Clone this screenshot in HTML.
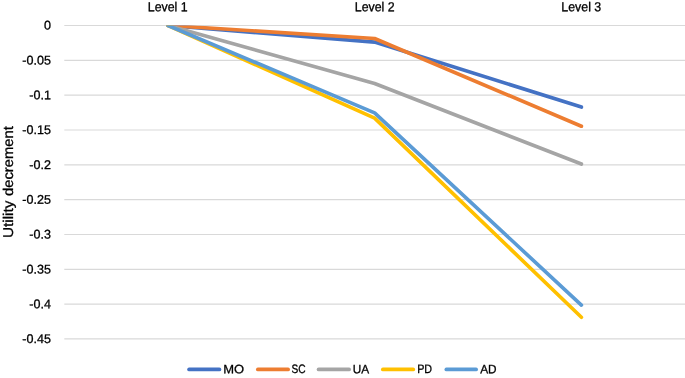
<!DOCTYPE html>
<html><head><meta charset="utf-8"><title>Utility decrement</title>
<style>
html,body{margin:0;padding:0;background:#fff;}
svg{display:block;}
text{font-family:"Liberation Sans",sans-serif;fill:#000;text-rendering:geometricPrecision;stroke:#000;stroke-width:0.3px;}
</style></head><body>
<svg width="685" height="378" viewBox="0 0 685 378">
<rect width="685" height="378" fill="#fff"/>
<defs><clipPath id="plot"><rect x="64" y="25.40" width="621" height="330"/></clipPath></defs>

<g stroke="#D9D9D9" stroke-width="1.2">
<line x1="64.3" y1="25.50" x2="685" y2="25.50"/>
<line x1="64.3" y1="60.33" x2="685" y2="60.33"/>
<line x1="64.3" y1="95.16" x2="685" y2="95.16"/>
<line x1="64.3" y1="129.99" x2="685" y2="129.99"/>
<line x1="64.3" y1="164.82" x2="685" y2="164.82"/>
<line x1="64.3" y1="199.65" x2="685" y2="199.65"/>
<line x1="64.3" y1="234.48" x2="685" y2="234.48"/>
<line x1="64.3" y1="269.31" x2="685" y2="269.31"/>
<line x1="64.3" y1="304.14" x2="685" y2="304.14"/>
<line x1="64.3" y1="338.97" x2="685" y2="338.97"/>
</g>
<g font-size="12.55" text-anchor="end">
<text x="50.9" y="29.60" transform="rotate(0.03 50.9 29.60)">0</text>
<text x="50.9" y="64.43" transform="rotate(0.03 50.9 64.43)">-0.05</text>
<text x="50.9" y="99.26" transform="rotate(0.03 50.9 99.26)">-0.1</text>
<text x="50.9" y="134.09" transform="rotate(0.03 50.9 134.09)">-0.15</text>
<text x="50.9" y="168.92" transform="rotate(0.03 50.9 168.92)">-0.2</text>
<text x="50.9" y="203.75" transform="rotate(0.03 50.9 203.75)">-0.25</text>
<text x="50.9" y="238.58" transform="rotate(0.03 50.9 238.58)">-0.3</text>
<text x="50.9" y="273.41" transform="rotate(0.03 50.9 273.41)">-0.35</text>
<text x="50.9" y="308.24" transform="rotate(0.03 50.9 308.24)">-0.4</text>
<text x="50.9" y="343.07" transform="rotate(0.03 50.9 343.07)">-0.45</text>
</g>
<g font-size="13.05" text-anchor="middle">
<text x="167.7" y="11.35" transform="rotate(0.03 167.7 11.35)" textLength="39.9" lengthAdjust="spacingAndGlyphs">Level 1</text>
<text x="374.7" y="11.35" transform="rotate(0.03 374.7 11.35)" textLength="39.9" lengthAdjust="spacingAndGlyphs">Level 2</text>
<text x="581.3" y="11.35" transform="rotate(0.03 581.3 11.35)" textLength="39.9" lengthAdjust="spacingAndGlyphs">Level 3</text>
</g>
<g font-size="14.1" stroke-width="0.15" transform="translate(13.4,238) rotate(-90)"><text x="0" y="0" textLength="37.4" lengthAdjust="spacingAndGlyphs">Utility</text><text x="42" y="0" textLength="69.8" lengthAdjust="spacingAndGlyphs">decrement</text></g>
<g clip-path="url(#plot)" fill="none" stroke-width="3.65" stroke-linecap="round" stroke-linejoin="round">
<polyline stroke="#4472C4" points="168.1,25.5 374.6,42.1 581.4,107.1"/>
<polyline stroke="#ED7D31" points="168.1,25.5 374.6,38.5 581.4,126.2"/>
<polyline stroke="#A5A5A5" points="168.1,25.5 374.6,83.5 581.4,164.0"/>
<polyline stroke="#FFC000" points="168.1,25.5 374.6,118.1 581.4,317.3"/>
<polyline stroke="#5B9BD5" points="168.1,25.5 374.6,112.9 581.4,305.1"/>
</g>
<g stroke-width="3.8" stroke-linecap="round">
<line x1="189.1" y1="369.4" x2="219.4" y2="369.4" stroke="#4472C4"/>
<line x1="257.9" y1="369.4" x2="288.1" y2="369.4" stroke="#ED7D31"/>
<line x1="318.6" y1="369.4" x2="349.1" y2="369.4" stroke="#A5A5A5"/>
<line x1="382.9" y1="369.4" x2="413.2" y2="369.4" stroke="#FFC000"/>
<line x1="446.4" y1="369.4" x2="476.1" y2="369.4" stroke="#5B9BD5"/>
</g>
<g font-size="12.15">
<text x="223.2" y="373.35" transform="rotate(0.03 223.2 373.35)" textLength="20.9" lengthAdjust="spacingAndGlyphs">MO</text>
<text x="291.5" y="373.35" transform="rotate(0.03 291.5 373.35)" textLength="14.1" lengthAdjust="spacingAndGlyphs">SC</text>
<text x="352.8" y="373.35" transform="rotate(0.03 352.8 373.35)" textLength="16.4" lengthAdjust="spacingAndGlyphs">UA</text>
<text x="417.2" y="373.35" transform="rotate(0.03 417.2 373.35)" textLength="14.9" lengthAdjust="spacingAndGlyphs">PD</text>
<text x="480.2" y="373.35" transform="rotate(0.03 480.2 373.35)" textLength="16.4" lengthAdjust="spacingAndGlyphs">AD</text>
</g>
</svg></body></html>
